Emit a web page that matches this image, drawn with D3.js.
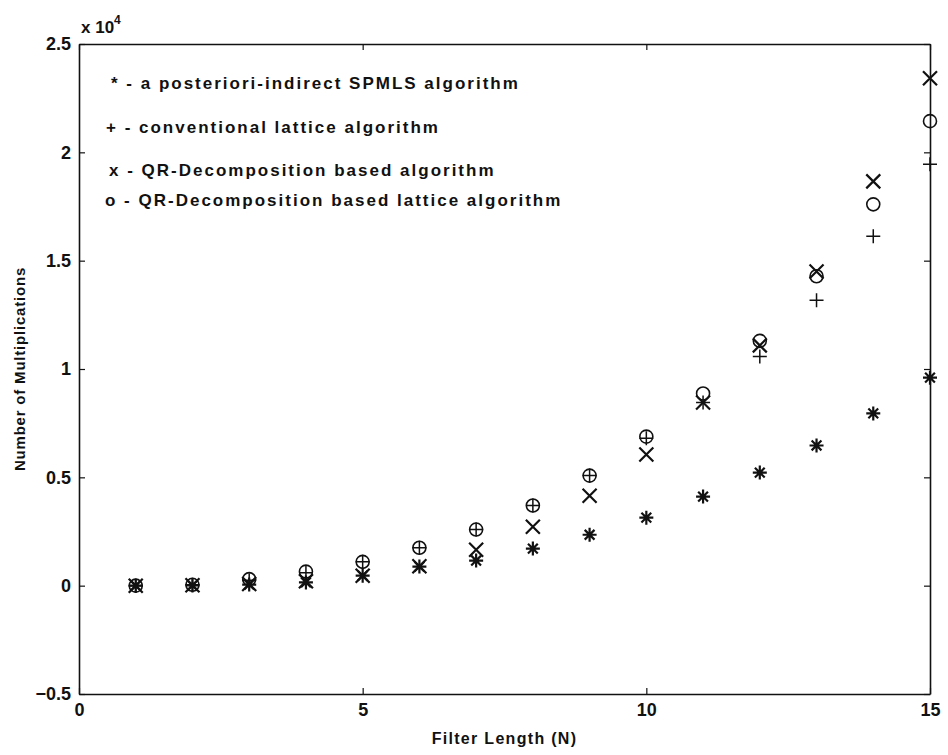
<!DOCTYPE html>
<html>
<head>
<meta charset="utf-8">
<script src="https://cdn.jsdelivr.net/npm/d3@7"></script>
<style>
  body { margin: 0; background: #fff; }
  svg text { font-family: 'Liberation Sans', Arial, sans-serif; font-weight: bold; fill: #111; }
</style>
</head>
<body>
<div class="chart"></div>
<script>
const filterLength = [1, 2, 3, 4, 5, 6, 7, 8, 9, 10, 11, 12, 13, 14, 15];

// multiplications per algorithm
const spmls = [0, 10, 50, 150, 460, 880, 1160, 1710, 2350, 3140, 4110, 5220, 6470, 7950, 9600];
const conventionalLattice = [0, 40, 250, 600, 1100, 1750, 2590, 3700, 5080, 6800, 8450, 10580, 13170, 16130, 19450];
const qrBased = [0, 20, 80, 200, 460, 900, 1660, 2720, 4150, 6050, 8450, 11090, 14500, 18660, 23420];
const qrLattice = [0, 40, 300, 650, 1100, 1750, 2590, 3700, 5080, 6880, 8870, 11300, 14280, 17600, 21440];

const legendLabels = [
  '* - a posteriori-indirect SPMLS algorithm',
  '+ - conventional lattice algorithm',
  'x - QR-Decomposition based algorithm',
  'o - QR-Decomposition based lattice algorithm',
];
const yTicks = [-5000, 0, 5000, 10000, 15000, 20000, 25000];
const xTicks = [0, 5, 10, 15];

const width = 948;
const height = 755;
const margin = { top: 44, right: 18, bottom: 61, left: 79 };

const svg = d3
  .select('.chart')
  .append('svg')
  .attr('width', width)
  .attr('height', height);

const x = d3.scaleLinear().domain([0, 15]).range([margin.left, width - margin.right]);
const y = d3.scaleLinear().domain([-5000, 25000]).range([height - margin.bottom, margin.top]);

// axes: ticks inside the box, like matlab
const fmtY = (d) => d3.format('')(d / 10000);

svg.append('g')
  .attr('transform', `translate(${margin.left},0)`)
  .call(d3.axisLeft(y).tickValues(yTicks).tickSizeInner(-6).tickSizeOuter(0).tickPadding(8).tickFormat(fmtY));

svg.append('g')
  .attr('transform', `translate(${width - margin.right},0)`)
  .call(d3.axisRight(y).tickValues(yTicks).tickSizeInner(-6).tickSizeOuter(0).tickFormat(''));

svg.append('g')
  .attr('transform', `translate(0,${height - margin.bottom})`)
  .call(d3.axisBottom(x).tickValues(xTicks).tickSizeInner(-6).tickSizeOuter(0).tickPadding(9));

svg.append('g')
  .attr('transform', `translate(0,${margin.top})`)
  .call(d3.axisTop(x).tickValues(xTicks).tickSizeInner(-6).tickSizeOuter(0).tickFormat(''));

svg.selectAll('.domain').attr('stroke', '#111').attr('stroke-width', 1.6);
svg.selectAll('.tick line').attr('stroke', '#111').attr('stroke-width', 1.2);
svg.selectAll('.tick text').style('font-size', '18px').attr('fill', '#111');

// x 10^4 multiplier
const mult = svg.append('text')
  .attr('x', margin.left + 2)
  .attr('y', margin.top - 11)
  .style('font-size', '17px');
mult.append('tspan').text('x 10');
mult.append('tspan').attr('dy', -9).style('font-size', '12px').text('4');

svg.append('text')
  .attr('x', (x(0) + x(15)) / 2)
  .attr('y', 744)
  .attr('text-anchor', 'middle')
  .style('font-size', '16px')
  .style('letter-spacing', '1.3px')
  .text('Filter Length (N)');

svg.append('text')
  .attr('transform', `translate(25,${(y(-5000) + y(25000)) / 2}) rotate(-90)`)
  .attr('text-anchor', 'middle')
  .style('font-size', '15px')
  .style('letter-spacing', '0.8px')
  .text('Number of Multiplications');

// markers
const s = 7;
const markers = {
  star: `M${-s},0L${s},0M0,${-s}L0,${s}M${-s * 0.7},${-s * 0.7}L${s * 0.7},${s * 0.7}M${-s * 0.7},${s * 0.7}L${s * 0.7},${-s * 0.7}`,
  plus: `M${-s},0L${s},0M0,${-s}L0,${s}`,
  cross: `M${-s},${-s}L${s},${s}M${-s},${s}L${s},${-s}`,
};

const series = [
  { values: qrLattice, type: 'circle' },
  { values: conventionalLattice, type: 'plus' },
  { values: qrBased, type: 'cross' },
  { values: spmls, type: 'star' },
];

series.forEach((ser) => {
  const pts = filterLength.map((n, i) => [n, ser.values[i]]);
  const g = svg.append('g');
  if (ser.type === 'circle') {
    g.selectAll('circle')
      .data(pts)
      .enter()
      .append('circle')
      .attr('cx', (d) => x(d[0]))
      .attr('cy', (d) => y(d[1]))
      .attr('r', 6.5)
      .attr('fill', 'none')
      .attr('stroke', '#111')
      .attr('stroke-width', 1.6);
  } else {
    g.selectAll('path')
      .data(pts)
      .enter()
      .append('path')
      .attr('transform', (d) => `translate(${x(d[0])},${y(d[1])})`)
      .attr('d', markers[ser.type])
      .attr('fill', 'none')
      .attr('stroke', '#111')
      .attr('stroke-width', ser.type === 'plus' ? 1.5 : 2.2);
  }
});

// legend text block inside the axes
const legendY = [83, 127, 170, 200];
svg.append('g')
  .selectAll('text')
  .data(legendLabels)
  .enter()
  .append('text')
  .attr('x', (d, i) => [111, 106, 109, 105][i])
  .attr('y', (d, i) => legendY[i] + 6)
  .style('font-size', '17px')
  .style('letter-spacing', '2px')
  .text((d) => d);
</script>
</body>
</html>
